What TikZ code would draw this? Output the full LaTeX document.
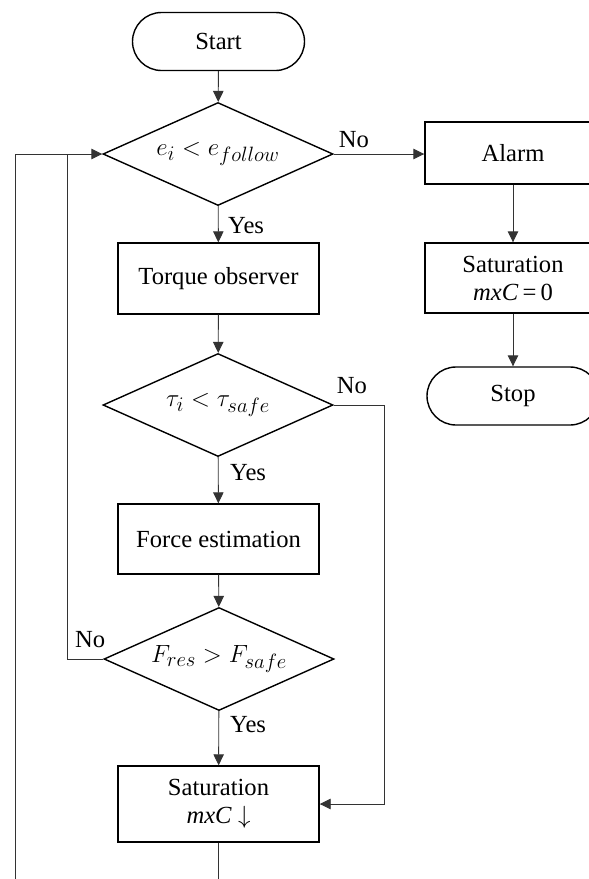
\documentclass[tikz,border=0pt]{standalone}
\usepackage{fontspec}
\setmainfont{Liberation Serif}
\usetikzlibrary{shapes.geometric,arrows.meta}
\tikzset{
  base/.style={draw=black, line width=1.4pt, font=\fontsize{24.6}{29}\selectfont, inner sep=0pt, align=center},
  procbox/.style={base, rectangle, minimum width=201pt, minimum height=71pt},
  sidebox/.style={base, rectangle, minimum width=176pt, minimum height=62pt},
  termbox/.style={base, rectangle, rounded corners=29pt, minimum width=172pt, minimum height=58pt},
  decide/.style={base, diamond, aspect=2.25, minimum width=230pt, minimum height=103pt, font=\fontsize{27.5}{31}\selectfont},
  conn/.style={draw=black!80, line width=0.9pt},
  arr/.style={conn, -{Triangle[length=11pt,width=10.5pt]}},
  lbl/.style={font=\fontsize{24.6}{29}\selectfont, inner sep=0pt}
}
\begin{document}
\begin{tikzpicture}[x=1pt,y=-1pt]
\useasboundingbox (0,0) rectangle (589,879);
\clip (0,0) rectangle (589,879);
% nodes
\node[termbox] (start) at (218.5,41.5) {Start};
\node[decide] (d1) at (218,154) {$e_i < e_{follow}$};
\node[procbox] (torque) at (218.5,278.5) {Torque observer};
\node[decide] (d2) at (218,405) {$\tau_i < \tau_{safe}$};
\node[procbox, minimum height=70pt] (force) at (218.5,539) {Force estimation};
\node[decide] (d3) at (219,659) {$F_{res} > F_{safe}$};
\node[procbox, minimum height=76pt] (sat) at (218.5,804) {Saturation\\[-1pt]\textit{mxC}~$\downarrow$};
\node[sidebox] (alarm) at (513,153) {Alarm};
\node[sidebox, minimum height=70pt] (sat0) at (513,278) {Saturation\\[-1pt]\textit{mxC}\,=\,0};
\node[termbox] (stop) at (513,396) {Stop};
% helper coordinates
\coordinate (outer) at (15,895);
\coordinate (inner) at (67,0);
\coordinate (rside) at (384,0);
% connectors
\draw[arr] (start) -- (d1);
\draw[arr] (d1) -- (torque);
\draw[arr] (torque) -- (d2);
\draw[arr] (d2) -- (force);
\draw[arr] (force) -- (d3);
\draw[arr] (d3) -- (sat);
\draw[arr] (d1.east) -- (alarm.west |- d1.east);
\draw[arr] (alarm) -- (sat0);
\draw[arr] (sat0) -- (stop);
\draw[arr] (d2.east) -| (rside |- sat.east) -- (sat.east);
\draw[arr] (sat.south) |- (outer) |- (d1.west);
\draw[conn] (d3.west) -| (inner |- d1.west);
% labels
\node[lbl, anchor=base west] (no1) at ([xshift=5pt,yshift=7pt]d1.east) {No};
\node[lbl, anchor=base west] (yes1) at ([xshift=10pt,yshift=-27pt]d1.south) {Yes};
\node[lbl, anchor=base west] (no2) at ([xshift=3pt,yshift=12pt]d2.east) {No};
\node[lbl, anchor=base west] (yes2) at ([xshift=12pt,yshift=-23pt]d2.south) {Yes};
\node[lbl, anchor=base east] (no3) at ([xshift=2pt,yshift=12pt]d3.west) {No};
\node[lbl, anchor=base west] (yes3) at ([xshift=11pt,yshift=-21pt]d3.south) {Yes};
\end{tikzpicture}
\end{document}
